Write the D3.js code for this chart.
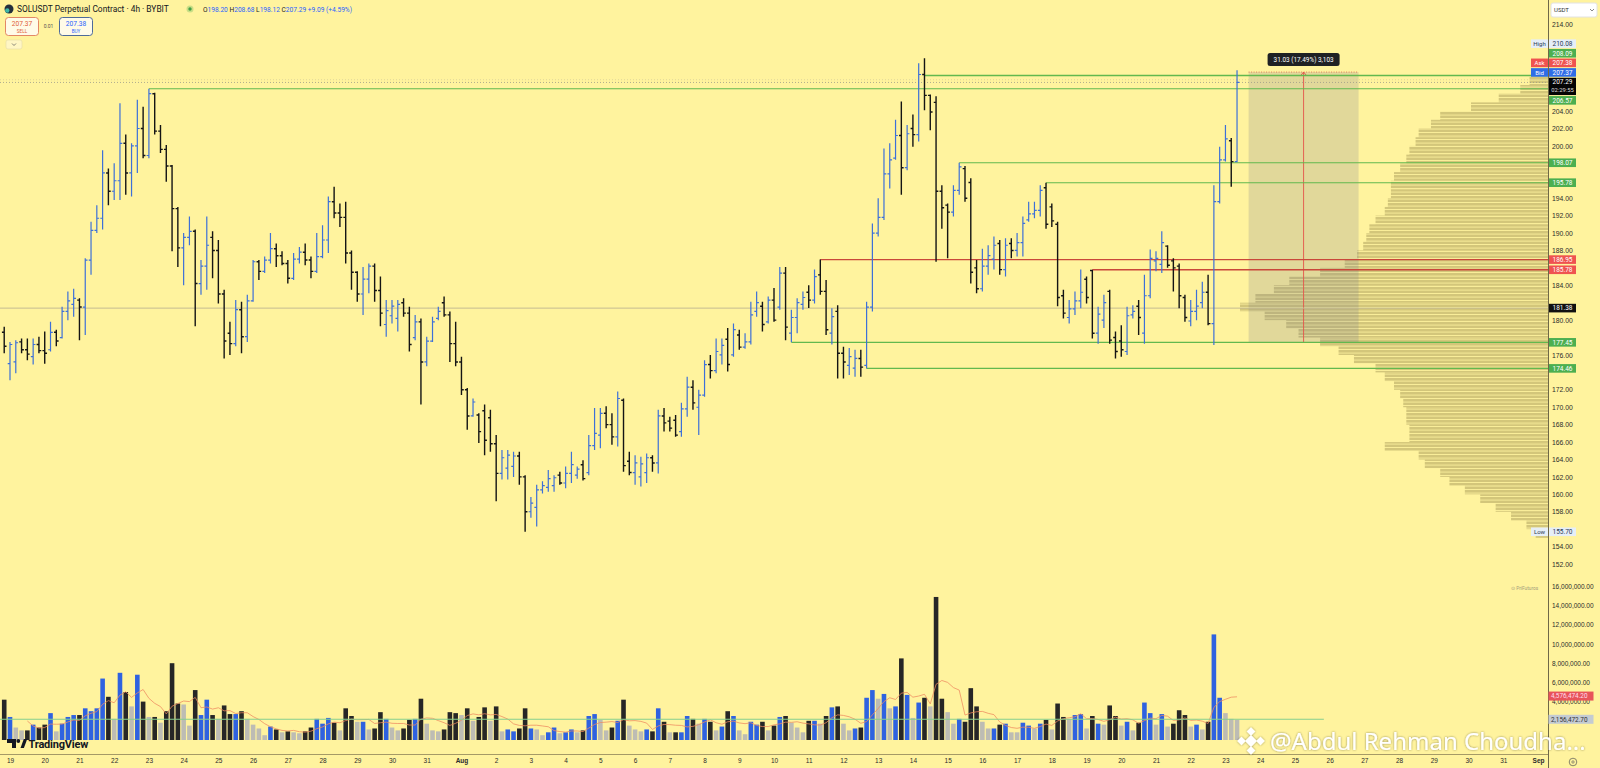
<!DOCTYPE html>
<html>
<head>
<meta charset="utf-8">
<title>SOLUSDT 4h</title>
<script src="https://cdn.jsdelivr.net/npm/d3@7"></script>
<style>
  html, body { margin: 0; padding: 0; background: #fff39e; overflow: hidden; }
  svg { display: block; font-family: Roboto, "Liberation Sans", sans-serif; }
</style>
</head>
<body>
<svg id="chart" width="1600" height="768"></svg>
<script>
// SOLUSDT perpetual, 4h bars, first bar 18 Jul 20:00 UTC
var opens = [
  178.6,175.0,175.2,177.5,176.6,175.8,177.2,176.5,176.6,178.6,
  178.0,181.0,181.8,182.3,181.5,186.9,190.3,191.7,196.9,194.8,
  196.0,200.3,196.9,200.0,202.0,198.9,206.0,201.7,199.6,197.7,
  192.8,188.3,189.5,190.2,184.2,186.2,189.5,188.0,183.0,178.5,
  177.3,181.2,178.1,182.2,186.7,185.6,186.9,188.2,187.4,186.5,
  184.8,187.0,187.8,186.9,185.6,187.3,189.2,193.6,192.3,191.8,
  187.7,185.5,183.0,184.7,186.2,183.4,179.5,180.5,180.2,182.0,
  180.8,178.0,179.8,175.2,177.6,180.2,182.0,180.6,177.3,175.2,
  172.0,169.0,169.1,169.6,168.8,165.8,162.4,163.0,163.2,164.4,
  162.0,158.0,158.5,160.5,160.8,161.0,162.2,161.3,162.4,162.2,
  163.4,162.5,165.6,166.8,169.3,168.0,166.6,170.8,163.8,162.5,
  162.0,162.5,164.2,163.6,169.0,168.4,168.5,167.2,169.8,172.3,
  170.0,171.4,174.9,174.2,176.0,177.8,176.0,178.3,176.9,177.5,
  181.0,181.6,179.8,182.3,181.5,185.4,178.5,180.3,181.8,183.2,
  182.3,185.2,183.3,178.5,181.0,176.2,174.8,174.5,175.6,174.8,
  181.5,190.0,191.8,196.8,198.6,201.2,197.5,202.0,201.3,208.2,
  205.8,205.0,194.8,193.2,192.4,194.9,197.4,195.8,186.0,183.6,
  186.2,187.0,188.8,185.8,188.8,188.0,188.9,191.5,192.2,192.6,
  195.2,193.0,191.0,182.8,180.3,181.3,182.2,184.7,185.7,178.5,
  180.0,183.3,178.0,177.6,176.4,180.6,181.6,178.5,182.8,186.8,
  186.4,188.5,186.8,186.2,182.6,179.9,181.0,182.0,183.2,179.6,
  193.6,198.4,200.6,198.20
];
var highs = [
  179.25,177.5,177.7,177.9,177.9,177.9,178.1,178.7,179.8,178.9,
  181.55,183.3,183.6,182.5,187.1,191.3,193.2,199.5,197.4,198.0,
  204.9,201.3,200.3,205.3,204.5,206.57,206.1,202.4,200.1,197.8,
  193.0,190.0,191.9,190.4,186.9,191.9,190.2,189.2,183.5,179.8,
  182.3,182.1,182.9,186.9,186.9,187.3,190.0,188.8,187.9,186.9,
  187.7,188.4,188.8,187.3,190.0,190.9,194.2,195.3,193.4,193.6,
  188.0,185.6,186.1,186.5,186.5,185.0,182.3,182.3,182.3,182.5,
  181.55,180.6,180.2,178.1,180.4,181.55,182.7,181.0,179.8,175.8,
  172.2,171.0,169.3,170.3,169.7,166.8,165.1,165.1,164.9,164.9,
  162.2,159.7,161.1,161.5,162.8,162.2,162.6,163.2,164.9,163.2,
  163.9,166.8,169.9,169.9,170.1,169.3,171.8,171.0,164.9,164.5,
  164.3,164.7,164.5,169.7,169.9,168.9,169.1,170.5,173.5,173.1,
  172.0,175.4,176.0,177.9,177.9,179.1,179.6,178.9,178.5,182.1,
  183.3,182.1,182.7,183.7,186.1,186.1,181.2,182.5,183.3,184.0,
  185.8,186.95,184.6,181.35,181.7,176.95,176.8,176.6,176.6,182.1,
  191.1,194.0,199.7,200.3,203.0,205.1,202.4,203.6,209.5,210.08,
  205.9,205.7,195.5,193.4,195.5,198.07,197.7,196.3,186.9,188.2,
  188.6,189.6,189.2,189.4,189.4,190.0,191.9,193.6,193.6,195.5,
  195.78,193.4,191.3,183.5,182.3,183.3,185.8,185.0,185.78,181.55,
  182.9,183.5,178.7,179.4,181.55,181.7,182.3,185.2,188.1,187.9,
  190.2,188.6,187.1,186.5,182.9,182.3,183.5,184.4,185.2,195.5,
  199.9,202.4,200.9,208.68
];
var lows = [
  176.2,173.1,173.9,176.2,175.4,174.9,176.2,175.0,176.4,177.0,
  177.9,180.0,180.4,177.7,178.3,185.2,190.0,190.4,193.2,193.8,
  193.8,194.4,194.2,196.9,198.6,198.6,201.3,199.2,195.9,187.9,
  186.1,184.0,188.6,179.3,182.9,183.5,184.8,181.9,175.6,176.0,
  177.0,176.2,177.5,182.1,184.6,185.4,186.5,186.1,186.3,184.2,
  184.6,186.5,186.3,184.8,185.4,187.1,187.7,191.7,190.7,186.5,
  183.5,182.1,180.6,183.1,182.1,179.3,178.1,179.6,178.7,180.4,
  176.4,177.7,170.3,174.7,177.5,180.0,180.4,175.2,174.7,171.4,
  167.4,168.9,165.9,164.5,164.9,159.2,161.7,161.7,162.0,161.1,
  155.7,157.3,156.3,160.1,160.3,160.3,161.1,160.7,161.3,161.8,
  161.6,162.2,165.1,165.3,167.6,165.7,165.5,162.6,162.2,161.1,
  160.9,161.3,162.6,162.4,167.2,167.2,166.6,166.6,168.9,169.7,
  166.8,171.2,173.3,173.9,174.9,174.1,175.8,176.6,176.7,177.2,
  180.4,178.7,179.6,179.8,181.2,177.7,177.45,178.5,181.2,181.4,
  181.9,182.9,178.3,177.2,173.3,173.3,173.7,173.5,173.5,174.46,
  181.0,189.6,191.5,195.1,198.4,194.4,197.2,199.9,200.5,204.1,
  201.8,186.7,190.5,187.1,191.9,194.4,193.6,184.2,183.1,183.3,
  185.2,185.8,185.2,185.0,187.1,187.3,187.3,191.3,191.7,191.9,
  190.5,190.7,181.6,180.2,179.6,180.6,181.35,181.9,177.9,177.3,
  179.1,177.3,175.6,175.8,176.0,180.2,178.3,177.3,182.5,185.6,
  185.4,186.0,183.3,181.35,179.8,179.3,180.0,181.35,179.4,177.15,
  193.4,198.2,195.3,198.12
];
var closes = [
  177.0,177.2,177.4,176.6,176.1,177.2,176.5,176.2,178.6,177.6,
  181.0,182.2,182.5,181.5,186.9,190.3,191.7,196.9,194.8,196.0,
  200.3,196.9,200.0,202.0,198.9,206.0,201.7,199.6,197.7,192.8,
  188.3,189.5,190.2,184.2,186.2,188.6,188.0,183.0,177.6,177.3,
  181.2,178.1,182.2,186.7,185.6,186.9,188.2,187.4,186.5,184.8,
  187.0,187.8,186.9,185.6,187.3,189.2,193.6,192.3,191.8,187.7,
  185.5,183.0,184.7,186.2,183.4,180.8,181.1,181.6,181.8,180.8,
  177.2,179.8,175.2,177.6,179.8,181.0,180.6,177.3,175.2,172.0,
  169.0,170.6,167.2,166.2,165.8,162.4,164.2,164.5,164.4,162.0,
  158.0,159.0,160.5,161.0,161.8,161.9,161.3,162.4,163.4,162.9,
  161.8,165.6,167.0,169.3,168.0,166.6,171.0,163.3,162.5,163.6,
  163.5,164.2,163.6,169.0,168.2,167.6,166.8,169.8,172.3,170.5,
  171.4,174.9,174.2,176.4,177.1,174.9,178.9,176.9,177.5,180.6,
  182.0,179.5,182.3,180.0,185.4,179.2,180.3,182.0,182.6,182.3,
  185.0,183.3,178.9,180.4,176.2,175.2,175.8,175.6,174.6,181.5,
  190.0,191.8,196.8,198.4,201.2,197.5,201.4,201.3,208.2,205.8,
  203.9,194.8,192.9,192.4,194.9,197.6,194.0,185.5,183.6,186.2,
  187.4,188.6,185.8,188.6,188.0,188.9,191.1,192.2,192.6,194.9,
  191.0,191.4,182.6,180.8,181.3,182.2,183.2,182.6,178.5,180.7,
  182.0,177.7,176.4,176.6,180.5,181.0,180.3,182.8,187.1,187.1,
  188.9,186.3,186.0,182.8,180.3,181.0,181.6,183.2,179.6,193.6,
  198.4,200.8,198.2,207.29
];
// volume per bar, millions
var volumesM = [
  4.2,2.4,1.3,1.0,1.0,1.6,1.3,1.6,2.8,0.9,
  1.7,2.4,2.6,2.6,3.3,3.0,3.3,6.4,4.5,2.2,
  7.0,5.0,3.5,6.8,4.0,2.4,2.4,1.8,3.0,8.0,
  3.8,3.7,1.5,5.2,2.6,4.2,2.6,2.2,3.6,2.7,
  2.7,3.0,2.2,1.6,1.2,0.5,1.4,1.1,0.8,0.9,
  0.8,0.7,0.9,1.3,2.2,1.7,2.3,1.8,1.0,3.3,
  2.5,1.9,1.9,1.1,1.2,2.9,2.2,1.3,1.0,1.2,
  2.1,2.2,4.3,1.7,1.0,0.9,1.1,2.9,2.8,2.6,
  3.3,2.0,2.4,3.4,2.0,3.5,0.9,1.1,0.9,1.2,
  3.3,1.2,1.1,0.5,0.8,1.3,0.7,0.8,1.1,0.8,
  1.0,2.5,2.7,2.1,1.0,1.3,2.0,4.2,1.5,1.1,
  0.9,1.1,0.9,3.3,1.9,0.8,0.8,0.8,2.5,2.2,
  1.7,2.2,1.9,1.0,1.4,3.0,2.5,1.0,0.6,1.9,
  1.6,1.9,1.0,1.5,2.4,2.5,1.8,1.3,0.8,2.0,
  2.0,1.7,2.5,3.4,3.5,1.7,1.0,1.2,1.3,4.4,
  5.2,4.3,4.8,3.3,3.5,8.5,4.7,2.3,3.9,4.4,
  3.5,14.9,4.3,2.9,1.7,2.2,1.9,5.4,3.5,1.9,
  1.2,1.2,1.6,1.7,0.8,0.8,1.8,1.5,1.2,1.7,
  2.1,1.1,3.8,2.4,2.2,2.6,2.7,1.2,2.5,1.7,
  1.6,3.6,2.5,1.5,1.9,1.0,1.8,3.9,2.8,1.6,
  2.7,1.4,1.7,3.1,2.6,1.4,1.6,1.1,1.9,11.0,
  4.4,2.8,2.2,2.1
];
// bars whose volume column is drawn gray (quiet bars)
var grayVolumeBars = [2,3,9,19,22,25,27,31,32,37,42,43,44,45,48,50,51,58,61,63,67,68,
  73,74,75,79,81,84,86,92,93,96,99,103,104,108,109,110,115,120,123,127,128,132,
  136,137,138,141,145,146,151,153,157,160,163,164,169,170,174,175,178,181,184,187,
  190,193,195,199,201,205,207,211,212,213];

// visible-range volume profile, 1 USDT rows
var profileLevels = [155,156,157,158,159,160,161,162,163,164,165,166,167,168,169,170,
  171,172,173,174,175,176,177,178,179,180,181,182,183,184,185,186,187,188,189,190,
  191,192,193,194,195,196,197,198,199,200,201,202,203,204,205,206,207];
var profileVolume = [4,7,12,17,22,27,32,35,40,42,53,45,45,46,46,47,
  48,50,53,56,63,68,74,81,85,92,100,95,89,84,74,66,62,60,59,58,
  56,53,52,51,51,50,48,46,45,43,42,38,35,25,16,9,6];

// drawn horizontal rays
var levelPrices = [208.09, 206.57, 198.07, 195.78, 186.95, 185.78, 177.45, 174.46];
var levelStartBar = [159, 25, 165, 180, 141, 188, 136, 149];
var levelKind = ["sup", "sup", "sup", "sup", "res", "res", "sup", "sup"];

var lastPrice = 207.29, askPrice = 207.38, bidPrice = 207.37;
var highPrice = 210.08, lowPrice = 155.70, pocPrice = 181.38;
var countdown = "02:29:55";
var volMA = 4576474.20, volLine = 2156472.70;

var priceTicks = d3.range(152, 215, 2);
var volumeTicks = d3.range(2e6, 16e6 + 1, 2e6);

// measure tool
var measureFrom = new Date(Date.UTC(2025, 7, 23, 16));
var measureTo = new Date(Date.UTC(2025, 7, 26, 20));
var measureLow = 177.45, measureHigh = 208.48;
var measureText = "31.03 (17.49%) 3,103";

// ---- layout ----
var width = 1600, height = 768, axisX = 1548;
var bg = "#fff39e";
var upColor = "#3d70d8", downColor = "#141414";
var volUp = "#2f62e0", volDown = "#262626", volGray = "#bdbcb4";
var firstBar = Date.UTC(2025, 6, 18, 20);
function barTime(i) { return new Date(firstBar + i * 4 * 3600 * 1000); }

var x = d3.scaleUtc()
    .domain([new Date(Date.UTC(2025, 6, 19)), new Date(Date.UTC(2025, 8, 1))])
    .range([10, 1538]);
var y = d3.scaleLinear().domain([152, 214]).range([564, 24]);
var yv = d3.scaleLinear().domain([0, 16e6]).range([740, 586.4]);
var xp = d3.scaleLinear().domain([0, 100]).range([0, 308]);

var svg = d3.select("#chart");
var defs = svg.append("defs");
defs.append("clipPath").attr("id", "plot")
  .append("rect").attr("x", 0).attr("y", 0).attr("width", axisX).attr("height", 753);
var pat = defs.append("pattern").attr("id", "prof")
    .attr("patternUnits", "userSpaceOnUse").attr("width", 4).attr("height", 3.5);
pat.append("rect").attr("width", 4).attr("height", 2.7).attr("fill", "#d3c67a");
defs.append("filter").attr("id", "wm").attr("x", "-5%").attr("y", "-20%").attr("width", "110%").attr("height", "140%")
  .append("feDropShadow").attr("dx", 0).attr("dy", 0).attr("stdDeviation", 0.8)
  .attr("flood-color", "#000").attr("flood-opacity", 0.45);

svg.append("rect").attr("width", width).attr("height", height).attr("fill", bg);

var plot = svg.append("g").attr("clip-path", "url(#plot)");

// volume profile
plot.append("g").selectAll("rect").data(profileLevels).join("rect")
    .attr("x", function(d, i) { return axisX - xp(profileVolume[i]); })
    .attr("y", function(d) { return y(d + 1); })
    .attr("width", function(d, i) { return xp(profileVolume[i]); })
    .attr("height", function(d) { return y(d) - y(d + 1); })
    .attr("fill", "url(#prof)");

// measure box
var mx0 = x(measureFrom), mx1 = x(measureTo), my0 = y(measureHigh), my1 = y(measureLow);
plot.append("rect").attr("x", mx0).attr("y", my0).attr("width", mx1 - mx0).attr("height", my1 - my0)
    .attr("fill", "rgba(120,125,140,0.22)");
plot.append("line").attr("x1", mx0).attr("x2", mx1).attr("y1", my0).attr("y2", my0)
    .attr("stroke", "#e0785a").attr("stroke-width", 1).attr("stroke-dasharray", "1,1.5");
var mxc = (mx0 + mx1) / 2;
plot.append("line").attr("x1", mxc).attr("x2", mxc).attr("y1", my0).attr("y2", my1)
    .attr("stroke", "#e5534a").attr("stroke-width", 0.9);
plot.append("path").attr("d", "M" + (mxc - 2.5) + "," + (my0 + 3) + "L" + mxc + "," + my0 + "L" + (mxc + 2.5) + "," + (my0 + 3))
    .attr("fill", "none").attr("stroke", "#e5534a").attr("stroke-width", 0.9);

// full width lines: poc and last price
plot.append("line").attr("x1", 0).attr("x2", axisX).attr("y1", y(pocPrice)).attr("y2", y(pocPrice))
    .attr("stroke", "#c4bb92").attr("stroke-width", 1);
plot.append("line").attr("x1", 0).attr("x2", axisX).attr("y1", y(lastPrice)).attr("y2", y(lastPrice))
    .attr("stroke", "#9a9a8a").attr("stroke-width", 0.8).attr("stroke-dasharray", "1,2");
plot.append("line").attr("x1", 0).attr("x2", axisX).attr("y1", y(bidPrice) - 2).attr("y2", y(bidPrice) - 2)
    .attr("stroke", "#d8cf98").attr("stroke-width", 0.8).attr("stroke-dasharray", "1,2");

// horizontal rays
plot.append("g").selectAll("line").data(levelPrices).join("line")
    .attr("x1", function(d, i) { return x(barTime(levelStartBar[i])); })
    .attr("x2", axisX)
    .attr("y1", function(d) { return y(d); })
    .attr("y2", function(d) { return y(d); })
    .attr("stroke", function(d, i) { return levelKind[i] === "sup" ? "#62b84e" : "#c9473a"; })
    .attr("stroke-width", function(d, i) { return i === 0 || i === 5 ? 1.6 : 1.1; });

// OHLC bars
var bars = closes.map(function(c, i) {
  return { t: barTime(i), o: opens[i], h: highs[i], l: lows[i], c: c };
});
plot.append("g").selectAll("path").data(bars).join("path")
    .attr("d", function(d) {
      var cx = x(d.t);
      return "M" + cx + "," + y(d.h) + "V" + y(d.l) +
        "M" + (cx - 2.3) + "," + y(d.o) + "H" + cx +
        "M" + cx + "," + y(d.c) + "H" + (cx + 2.3);
    })
    .attr("fill", "none")
    .attr("stroke", function(d) { return d.c >= d.o ? upColor : downColor; })
    .attr("stroke-width", function(d) { return d.c >= d.o ? 1.2 : 1.4; });

// volume bars
var grayset = new Set(grayVolumeBars);
plot.append("g").selectAll("rect").data(volumesM).join("rect")
    .attr("x", function(d, i) { return x(barTime(i)) - 2.3; })
    .attr("y", function(d) { return yv(d * 1e6); })
    .attr("width", 4.6)
    .attr("height", function(d) { return yv(0) - yv(d * 1e6); })
    .attr("fill", function(d, i) {
      if (grayset.has(i)) return volGray;
      return closes[i] >= opens[i] ? volUp : volDown;
    });

// volume moving average (5 bars)
var ma = [];
for (var i = 4; i < volumesM.length; i++) {
  ma.push({ t: barTime(i), v: d3.mean(volumesM.slice(i - 4, i + 1)) * 1e6 });
}
plot.append("path").datum(ma)
    .attr("d", d3.line().x(function(d) { return x(d.t); }).y(function(d) { return yv(d.v); }))
    .attr("fill", "none").attr("stroke", "#ee8a60").attr("stroke-width", 0.9).attr("opacity", 0.85);

plot.append("line").attr("x1", 0).attr("x2", x(new Date(Date.UTC(2025, 7, 25, 20))))
    .attr("y1", yv(volLine)).attr("y2", yv(volLine))
    .attr("stroke", "#86cf8e").attr("stroke-width", 1.1);

// measure label
var mlg = svg.append("g");
mlg.append("rect").attr("x", mxc - 36).attr("y", my0 - 19).attr("width", 72).attr("height", 13).attr("rx", 2.5)
    .attr("fill", "#1f2124");
mlg.append("text").attr("x", mxc).attr("y", my0 - 10.3).attr("text-anchor", "middle")
    .attr("font-size", 6.4).attr("fill", "#fff").text(measureText);

// ---- price axis tags, stacked around the last price like the platform does ----
var tagStyle = {
  sup: { fill: "#4caf50", text: "#fff" }, res: { fill: "#ef5350", text: "#fff" },
  ask: { fill: "#ef5350", text: "#fff" }, bid: { fill: "#2f6de6", text: "#fff" },
  poc: { fill: "#111", text: "#fff" }, hl: { fill: "#e6eef7", text: "#2b3a55" }
};
var tags = levelPrices.map(function(p, i) { return { p: p, kind: levelKind[i] }; });
tags.push({ p: askPrice, kind: "ask", side: "Ask" });
tags.push({ p: bidPrice, kind: "bid", side: "Bid" });
tags.push({ p: highPrice, kind: "hl", side: "High" });
tags.push({ p: lowPrice, kind: "hl", side: "Low" });
tags.push({ p: pocPrice, kind: "poc" });
tags.forEach(function(t) { t.h = 8.6; });
var lastTag = { p: lastPrice, h: 17.3, top: y(lastPrice) - 4.7 };
var above = tags.filter(function(t) { return t.p > lastPrice; }).sort(function(a, b) { return a.p - b.p; });
var below = tags.filter(function(t) { return t.p < lastPrice; }).sort(function(a, b) { return b.p - a.p; });
var edge = lastTag.top - 1;
above.forEach(function(t) { t.top = Math.min(y(t.p) - t.h / 2, edge - t.h); edge = t.top - 1; });
edge = lastTag.top + lastTag.h + 1;
below.forEach(function(t) { t.top = Math.max(y(t.p) - t.h / 2, edge); edge = t.top + t.h + 1; });

// a tick label is hidden when a tag box sits over it
var boxes = tags.concat([lastTag]);
function covered(ty) {
  return boxes.some(function(b) { return ty > b.top - 1.5 && ty < b.top + b.h + 1.5; });
}
var shownPriceTicks = priceTicks.filter(function(p) { return !covered(y(p)); });
var volBoxes = [volMA, volLine].map(function(v) { return { top: yv(v) - 4.5, h: 9 }; });
var shownVolumeTicks = volumeTicks.filter(function(v) {
  var ty = yv(v);
  return !volBoxes.some(function(b) { return ty > b.top - 0.5 && ty < b.top + b.h + 0.5; });
});

// ---- axes ----
svg.append("line").attr("x1", axisX + 0.5).attr("x2", axisX + 0.5).attr("y1", 0).attr("y2", height)
    .attr("stroke", "#6f6848").attr("stroke-width", 1);
svg.append("line").attr("x1", 0).attr("x2", axisX).attr("y1", 754.5).attr("y2", 754.5)
    .attr("stroke", "#a59a66").attr("stroke-width", 1);

var pa = svg.append("g").attr("transform", "translate(" + axisX + ",0)")
    .call(d3.axisRight(y).tickValues(shownPriceTicks).tickFormat(d3.format(".2f")).tickSize(0).tickPadding(4));
pa.select(".domain").remove();
pa.selectAll("text").attr("font-size", 6.8).attr("fill", "#2b2b2b");

var va = svg.append("g").attr("transform", "translate(" + axisX + ",0)")
    .call(d3.axisRight(yv).tickValues(shownVolumeTicks).tickFormat(d3.format(",.2f")).tickSize(0).tickPadding(4));
va.select(".domain").remove();
va.selectAll("text").attr("font-size", 6.5).attr("fill", "#2b2b2b");

var days = d3.utcDay.range(new Date(Date.UTC(2025, 6, 19)), new Date(Date.UTC(2025, 8, 2)));
var ta = svg.append("g").attr("transform", "translate(0,754)")
    .call(d3.axisBottom(x).tickValues(days).tickSize(0).tickPadding(4)
      .tickFormat(function(d) { return d.getUTCDate() === 1 ? d3.utcFormat("%b")(d) : d.getUTCDate(); }));
ta.select(".domain").remove();
ta.selectAll("text").attr("font-size", 6.5).attr("fill", "#2b2b2b")
    .attr("font-weight", function(d) { return d.getUTCDate() === 1 ? "bold" : null; });

var tg = svg.append("g");
tags.forEach(function(t) {
  var st = tagStyle[t.kind];
  tg.append("rect").attr("x", axisX + 1).attr("y", t.top).attr("width", 27).attr("height", t.h).attr("fill", st.fill);
  tg.append("text").attr("x", axisX + 14.5).attr("y", t.top + t.h / 2 + 2.3).attr("text-anchor", "middle")
    .attr("font-size", 6.5).attr("fill", st.text).text(t.p.toFixed(2));
  if (t.side) {
    tg.append("rect").attr("x", axisX - 17).attr("y", t.top).attr("width", 17).attr("height", t.h).attr("fill", st.fill);
    tg.append("text").attr("x", axisX - 8.5).attr("y", t.top + t.h / 2 + 2.3).attr("text-anchor", "middle")
      .attr("font-size", 6).attr("fill", st.text).text(t.side);
  }
});
tg.append("rect").attr("x", axisX + 1).attr("y", lastTag.top).attr("width", 27).attr("height", lastTag.h).attr("fill", "#050505");
tg.append("text").attr("x", axisX + 14.5).attr("y", lastTag.top + 6.7).attr("text-anchor", "middle")
  .attr("font-size", 6.5).attr("fill", "#fff").text(lastPrice.toFixed(2));
tg.append("text").attr("x", axisX + 14.5).attr("y", lastTag.top + 14).attr("text-anchor", "middle")
  .attr("font-size", 5.8).attr("fill", "#ddd").text(countdown);

// volume axis tags
var fmtV = d3.format(",.2f");
svg.append("rect").attr("x", axisX + 0.5).attr("y", yv(volMA) - 4.5).attr("width", 45).attr("height", 9).attr("fill", "#e8545a");
svg.append("text").attr("x", axisX + 3).attr("y", yv(volMA) + 2.3).attr("font-size", 6.4).attr("fill", "#fde").text(fmtV(volMA));
svg.append("rect").attr("x", axisX + 0.5).attr("y", yv(volLine) - 4.5).attr("width", 45).attr("height", 9).attr("fill", "#c4cbd2");
svg.append("text").attr("x", axisX + 3).attr("y", yv(volLine) + 2.3).attr("font-size", 6.4).attr("fill", "#333").text(fmtV(volLine));

// currency box and settings
svg.append("rect").attr("x", 1551).attr("y", 3).attr("width", 46).attr("height", 14).attr("rx", 2)
    .attr("fill", "#fff").attr("stroke", "#e2e2e2");
svg.append("text").attr("x", 1554).attr("y", 12.3).attr("font-size", 6).attr("fill", "#333").text("USDT");
svg.append("path").attr("d", "M1590,9 l2,2 l2,-2").attr("fill", "none").attr("stroke", "#555").attr("stroke-width", 0.7);
svg.append("circle").attr("cx", 1573).attr("cy", 762).attr("r", 3.8).attr("fill", "none").attr("stroke", "#555").attr("stroke-width", 0.7);
svg.append("circle").attr("cx", 1573).attr("cy", 762).attr("r", 1.2).attr("fill", "none").attr("stroke", "#555").attr("stroke-width", 0.6);
svg.append("text").attr("x", 1511).attr("y", 590).attr("font-size", 4.8).attr("fill", "#a29c7c").text("\u2299 PriFuturos");

// ---- header ----
var hd = svg.append("g");
hd.append("circle").attr("cx", 9).attr("cy", 9).attr("r", 4.5).attr("fill", "#24303c");
hd.append("circle").attr("cx", 7.3).attr("cy", 10.5).attr("r", 2.2).attr("fill", "#3fb8a6");
hd.append("text").attr("x", 17).attr("y", 12).attr("font-size", 8.4).attr("fill", "#131722")
    .text("SOLUSDT Perpetual Contract \u00b7 4h \u00b7 BYBIT");
hd.append("circle").attr("cx", 190).attr("cy", 9).attr("r", 3.5).attr("fill", "rgba(76,175,80,0.3)");
hd.append("circle").attr("cx", 190).attr("cy", 9).attr("r", 1.7).attr("fill", "#43a047");
var ohlcText = hd.append("text").attr("x", 203).attr("y", 11.5).attr("font-size", 6.6);
[["O", "198.20"], ["H", "208.68"], ["L", "198.12"], ["C", "207.29"]].forEach(function(p) {
  ohlcText.append("tspan").attr("fill", "#222").text(p[0]);
  ohlcText.append("tspan").attr("fill", "#2962ff").text(p[1] + " ");
});
ohlcText.append("tspan").attr("fill", "#2962ff").text("+9.09 (+4.59%)");

function tradeBox(x0, price, label, col, border) {
  hd.append("rect").attr("x", x0).attr("y", 17.5).attr("width", 33).attr("height", 18).attr("rx", 3)
    .attr("fill", "#fffbe8").attr("stroke", border).attr("stroke-width", 0.9);
  hd.append("text").attr("x", x0 + 16.5).attr("y", 26).attr("text-anchor", "middle").attr("font-size", 6.6)
    .attr("fill", col).text(price);
  hd.append("text").attr("x", x0 + 16.5).attr("y", 32.6).attr("text-anchor", "middle").attr("font-size", 4.6)
    .attr("fill", col).text(label);
}
tradeBox(5.5, "207.37", "SELL", "#e0603a", "#e07a5a");
tradeBox(59.5, "207.38", "BUY", "#2962ff", "#3a5a95");
hd.append("text").attr("x", 48.5).attr("y", 28).attr("text-anchor", "middle").attr("font-size", 5).attr("fill", "#555").text("0.01");
hd.append("rect").attr("x", 6).attr("y", 40).attr("width", 16).attr("height", 9).attr("rx", 2)
    .attr("fill", "#fff6c4").attr("stroke", "#e4dca8").attr("stroke-width", 0.6);
hd.append("path").attr("d", "M12,43.5 l2,2 l2,-2").attr("fill", "none").attr("stroke", "#555").attr("stroke-width", 0.7);

// ---- TradingView logo ----
var lg = svg.append("g").attr("fill", "#131722");
lg.append("path").attr("d", "M7,739 h9 v9 h-4 v-5 h-5 z");
lg.append("circle").attr("cx", 18.3).attr("cy", 741).attr("r", 1.9);
lg.append("path").attr("d", "M20.5,748 l3.3,-9 h3.4 l-3.3,9 z");
lg.append("text").attr("x", 28.5).attr("y", 747.5).attr("font-size", 11).attr("font-weight", "bold")
    .attr("letter-spacing", -0.2).text("TradingView");

// ---- watermark ----
var wm = svg.append("g").attr("fill", "#fff").attr("filter", "url(#wm)");
var bcx = 1251, bcy = 741;
[[0, 0, 4.2], [0, -9.5, 3], [0, 9.5, 3], [-9.5, 0, 3], [9.5, 0, 3]].forEach(function(s) {
  wm.append("rect").attr("x", bcx + s[0] - s[2]).attr("y", bcy + s[1] - s[2])
    .attr("width", s[2] * 2).attr("height", s[2] * 2)
    .attr("transform", "rotate(45," + (bcx + s[0]) + "," + (bcy + s[1]) + ")");
});
wm.append("text").attr("x", 1270).attr("y", 750).attr("font-family", "'Noto Sans', 'Open Sans', sans-serif")
    .attr("font-size", 24).text("@Abdul Rehman Choudha...");
</script>
</body>
</html>
